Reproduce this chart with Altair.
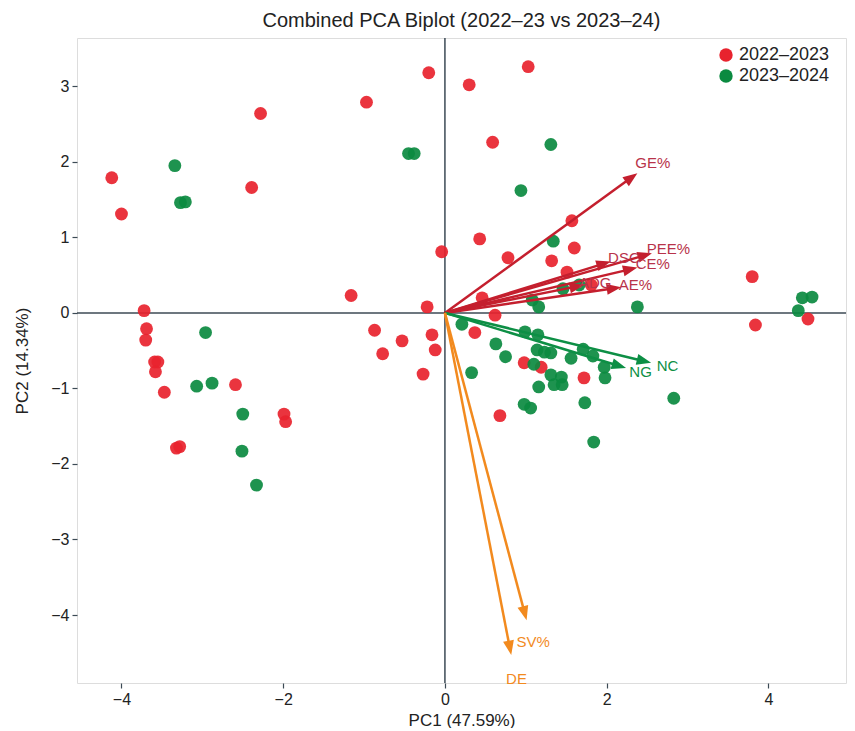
import math
import altair as alt
import pandas as pd

# ---- scores (PC1, PC2) ----
red_x = [-4.12, -4.00, -2.39, -1.16, -3.72, -3.69, -3.70, -3.59, -3.55, -3.58, -3.47, -2.59,
         -1.99, -1.97, -3.32, -3.28, -0.20, -0.97, 0.30, 1.03, 0.59, -2.28,
         -0.22, -0.87, -0.53, -0.16, -0.77, -0.12, -0.27, 3.80, 3.84, 4.49,
         0.43, -0.04, 1.57, 1.60, 0.78, 1.32, 1.51, 1.81, 0.46, 0.62, 0.37, 0.98, 1.19, 1.72, 0.68]
red_y = [1.79, 1.31, 1.66, 0.23, 0.03, -0.21, -0.36, -0.65, -0.65, -0.78, -1.05, -0.95,
         -1.34, -1.44, -1.79, -1.77, 3.18, 2.79, 3.02, 3.26, 2.26, 2.64,
         0.08, -0.23, -0.37, -0.29, -0.54, -0.49, -0.81, 0.48, -0.16, -0.08,
         0.98, 0.81, 1.22, 0.86, 0.73, 0.69, 0.54, 0.37, 0.20, -0.03, -0.26, -0.66, -0.72, -0.86, -1.36]
green_x = [-3.34, -3.27, -3.21, -2.96, -3.07, -2.88, -2.50, -2.51, -2.33, -0.45, -0.38, 1.31,
           4.42, 4.54, 4.37, 0.94, 1.34, 1.46, 1.66, 1.08, 1.16, 2.38, 0.21, 0.99, 1.15, 0.63,
           1.14, 1.23, 1.31, 0.75, 1.56, 1.71, 1.83, 1.10, 1.97, 0.33, 1.31, 1.44, 1.35, 1.16,
           1.45, 1.98, 0.98, 1.06, 1.73, 1.84, 2.83]
green_y = [1.95, 1.46, 1.47, -0.26, -0.97, -0.93, -1.34, -1.83, -2.28, 2.11, 2.11, 2.23,
           0.20, 0.21, 0.03, 1.62, 0.95, 0.32, 0.37, 0.17, 0.08, 0.08, -0.15, -0.25, -0.29, -0.41,
           -0.49, -0.52, -0.53, -0.58, -0.60, -0.48, -0.57, -0.68, -0.72, -0.79, -0.82, -0.85, -0.95, -0.98,
           -0.95, -0.86, -1.21, -1.26, -1.19, -1.71, -1.13]

seasons = ["2022–2023", "2023–2024"]
season_colors = ["#e8232e", "#0b8a40"]

# ---- loadings (arrow tips) ----
var_names = ["GE%", "PEE%", "DSC", "CE%", "ADG", "AE%", "NC", "NG", "SV%", "DE"]
load_x = [2.38, 2.56, 2.05, 2.38, 1.72, 2.18, 2.55, 2.24, 1.01, 0.82]
load_y = [1.85, 0.79, 0.68, 0.60, 0.37, 0.34, -0.66, -0.73, -4.07, -4.53]
var_group = ["r", "r", "r", "r", "r", "r", "g", "g", "o", "o"]
group_colors = {"r": "#c41f2e", "g": "#0d8f45", "o": "#f28a1e"}
label_colors = {"r": "#b8334a", "g": "#0d8f45", "o": "#f28a1e"}

x_dom = [-4.55, 4.96]
y_dom = [-4.9, 3.64]
W, H = 769, 645
sx = W / (x_dom[1] - x_dom[0])
sy = H / (y_dom[1] - y_dom[0])

pts = pd.DataFrame({
    "PC1": red_x + green_x,
    "PC2": red_y + green_y,
    "Season": [seasons[0]] * len(red_x) + [seasons[1]] * len(green_x),
})

HEAD_SIZE = 260
head_r = math.sqrt(HEAD_SIZE) / 2
rows = []
for n, lx, ly, g in zip(var_names, load_x, load_y, var_group):
    lp = math.hypot(lx * sx, ly * sy)
    f = 1 - head_r / lp
    fs = 1 - (head_r * 1.5) / lp
    ang = math.degrees(math.atan2(lx * sx, ly * sy)) % 360
    rows.append(dict(name=n, x0=0.0, y0=0.0, hx=lx * f, hy=ly * f, sxe=lx * fs, sye=ly * fs,
                     lx=lx * 1.08, ly=ly * 1.07, angle=ang,
                     col=group_colors[g], lcol=label_colors[g]))
arr = pd.DataFrame(rows)

xs = alt.Scale(domain=x_dom, nice=False, zero=False)
ys = alt.Scale(domain=y_dom, nice=False, zero=False)
font = "Liberation Sans"

x_axis = alt.Axis(values=[-4, -2, 0, 2, 4], format="d", grid=False, domain=False, tickSize=5,
                  tickColor="#3c4a55", tickWidth=1.2, labelFontSize=16, labelColor="#222222",
                  titleFontSize=17, titleFontWeight="normal", titleColor="#222222",
                  labelFont=font, titleFont=font, titlePadding=5, labelPadding=3)
y_axis = alt.Axis(values=[-4, -3, -2, -1, 0, 1, 2, 3], format="d", grid=False, domain=False, tickSize=5,
                  tickColor="#3c4a55", tickWidth=1.2, labelFontSize=16, labelColor="#222222",
                  titleFontSize=17, titleFontWeight="normal", titleColor="#222222",
                  labelFont=font, titleFont=font, titlePadding=19, labelPadding=3)

zero_df = pd.DataFrame({"v": [0.0]})
hline = alt.Chart(zero_df).mark_rule(color="#3c4a55", strokeWidth=1.5).encode(
    y=alt.Y("v:Q", scale=ys, axis=y_axis, title="PC2 (14.34%)"))
vline = alt.Chart(zero_df).mark_rule(color="#3c4a55", strokeWidth=1.5).encode(
    x=alt.X("v:Q", scale=xs, axis=x_axis, title="PC1 (47.59%)"))

points = alt.Chart(pts).mark_circle(size=165, opacity=0.92).encode(
    x=alt.X("PC1:Q", scale=xs, axis=x_axis, title="PC1 (47.59%)"),
    y=alt.Y("PC2:Q", scale=ys, axis=y_axis, title="PC2 (14.34%)"),
    color=alt.Color("Season:N", scale=alt.Scale(domain=seasons, range=season_colors),
                    legend=alt.Legend(title=None, orient="none", legendX=640, legendY=8,
                                      labelFontSize=18, labelFont=font, labelColor="#222222",
                                      symbolSize=180, symbolType="circle", rowPadding=3,
                                      labelOffset=4, symbolOpacity=1)),
)

shafts = alt.Chart(arr).mark_rule(strokeWidth=2.5).encode(
    x=alt.X("x0:Q", scale=xs), y=alt.Y("y0:Q", scale=ys),
    x2="sxe:Q", y2="sye:Q",
    stroke=alt.Stroke("col:N", scale=None))

heads = alt.Chart(arr).mark_point(shape="M0,-1L0.68,0.8L-0.68,0.8Z", filled=True,
                                  size=HEAD_SIZE, opacity=1).encode(
    x=alt.X("hx:Q", scale=xs), y=alt.Y("hy:Q", scale=ys),
    angle=alt.Angle("angle:Q", scale=None),
    fill=alt.Fill("col:N", scale=None))

labels = alt.Chart(arr).mark_text(fontSize=15, font=font, align="center", baseline="middle").encode(
    x=alt.X("lx:Q", scale=xs), y=alt.Y("ly:Q", scale=ys),
    text="name:N",
    fill=alt.Fill("lcol:N", scale=None))

chart = alt.layer(hline, vline, points, shafts, heads, labels).properties(
    width=W, height=H,
    title=alt.Title("Combined PCA Biplot (2022–23 vs 2023–24)", fontSize=20, font=font,
                    fontWeight="normal", color="#222222", offset=6),
).configure_view(stroke="#3c4a55", strokeWidth=1.5).configure(
    padding={"left": 5, "top": 3, "right": 0, "bottom": 0})

chart.save("out.html", embed_options={"renderer": "svg", "actions": False})
